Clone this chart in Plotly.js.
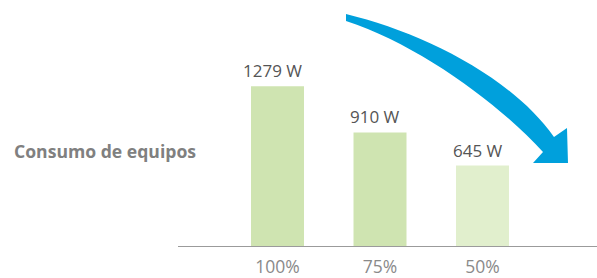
<!DOCTYPE html>
<html>
<head>
<meta charset="utf-8">
<script src="https://cdn.plot.ly/plotly-3.0.1.min.js"></script>
<style>
  html, body { margin: 0; padding: 0; background: #fff; }
  #chart { width: 597px; height: 278px; }
</style>
</head>
<body>
<div id="chart"></div>
<script>
// ---- data ----
const categories = ["100%", "75%", "50%"];
const consumo = [1279, 910, 645];
const unidad = " W";
const rowLabel = "Consumo de equipos";

// ---- styles ----
const barColors = ["#cfe4b1", "#cfe4b1", "#e1efcd"];
const W = 597, H = 278;
const px = x => x / W;            // pixel -> paper x
const py = y => (H - y) / H;      // pixel -> paper y

const trace = {
  type: "bar",
  x: categories,
  y: consumo,
  marker: { color: barColors },
  hoverinfo: "skip"
};

const annotations = categories.map((c, i) => ({
  x: c, y: consumo[i], xref: "x", yref: "y",
  text: consumo[i] + unidad,
  showarrow: false, yanchor: "bottom", xanchor: "center",
  xshift: -5, yshift: 2,
  font: { family: "Open Sans", size: 17, color: "#555555" }
}));

annotations.push({
  x: px(12), y: py(151), xref: "paper", yref: "paper",
  xanchor: "left", yanchor: "middle", showarrow: false,
  text: "<b>" + rowLabel + "</b>",
  font: { family: "Open Sans", size: 17.6, color: "#808080" }
});

// curved arrow (decoration), defined in pixel space then mapped to paper
const arrowPts = [
  ["M", [346, 14]],
  ["C", [420, 32], [510, 75], [554, 137]],
  ["L", [567, 128]],
  ["L", [568, 163]],
  ["L", [533, 163]],
  ["L", [543, 152]],
  ["C", [500, 105], [420, 45], [346, 21]]
];
const arrowPath = arrowPts.map(seg => seg[0] + " " +
  seg.slice(1).map(p => px(p[0]).toFixed(5) + "," + py(p[1]).toFixed(5)).join(" ")
).join(" ") + " Z";

const layout = {
  width: W, height: H,
  margin: { l: 0, r: 0, t: 0, b: 0 },
  paper_bgcolor: "#ffffff",
  plot_bgcolor: "#ffffff",
  showlegend: false,
  bargap: 0.483,
  xaxis: {
    type: "category",
    domain: [178 / W, 1],
    range: [-0.9707, 3.117],
    showline: true, linecolor: "#9b9b9b", linewidth: 1,
    showgrid: false, zeroline: false, ticks: "",
    ticklabelstandoff: 5,
    tickfont: { family: "Open Sans", size: 17.5, color: "#8a8a8a" },
    automargin: false, fixedrange: true
  },
  yaxis: {
    domain: [32 / H, 1],
    range: [0, 1971],
    visible: false, showgrid: false, zeroline: false,
    automargin: false, fixedrange: true
  },
  annotations: annotations,
  shapes: [{
    type: "path", xref: "paper", yref: "paper",
    path: arrowPath,
    fillcolor: "#00a0dc", line: { width: 0 }, layer: "above"
  }]
};

Plotly.newPlot("chart", [trace], layout, { displayModeBar: false, staticPlot: true });
</script>
</body>
</html>
